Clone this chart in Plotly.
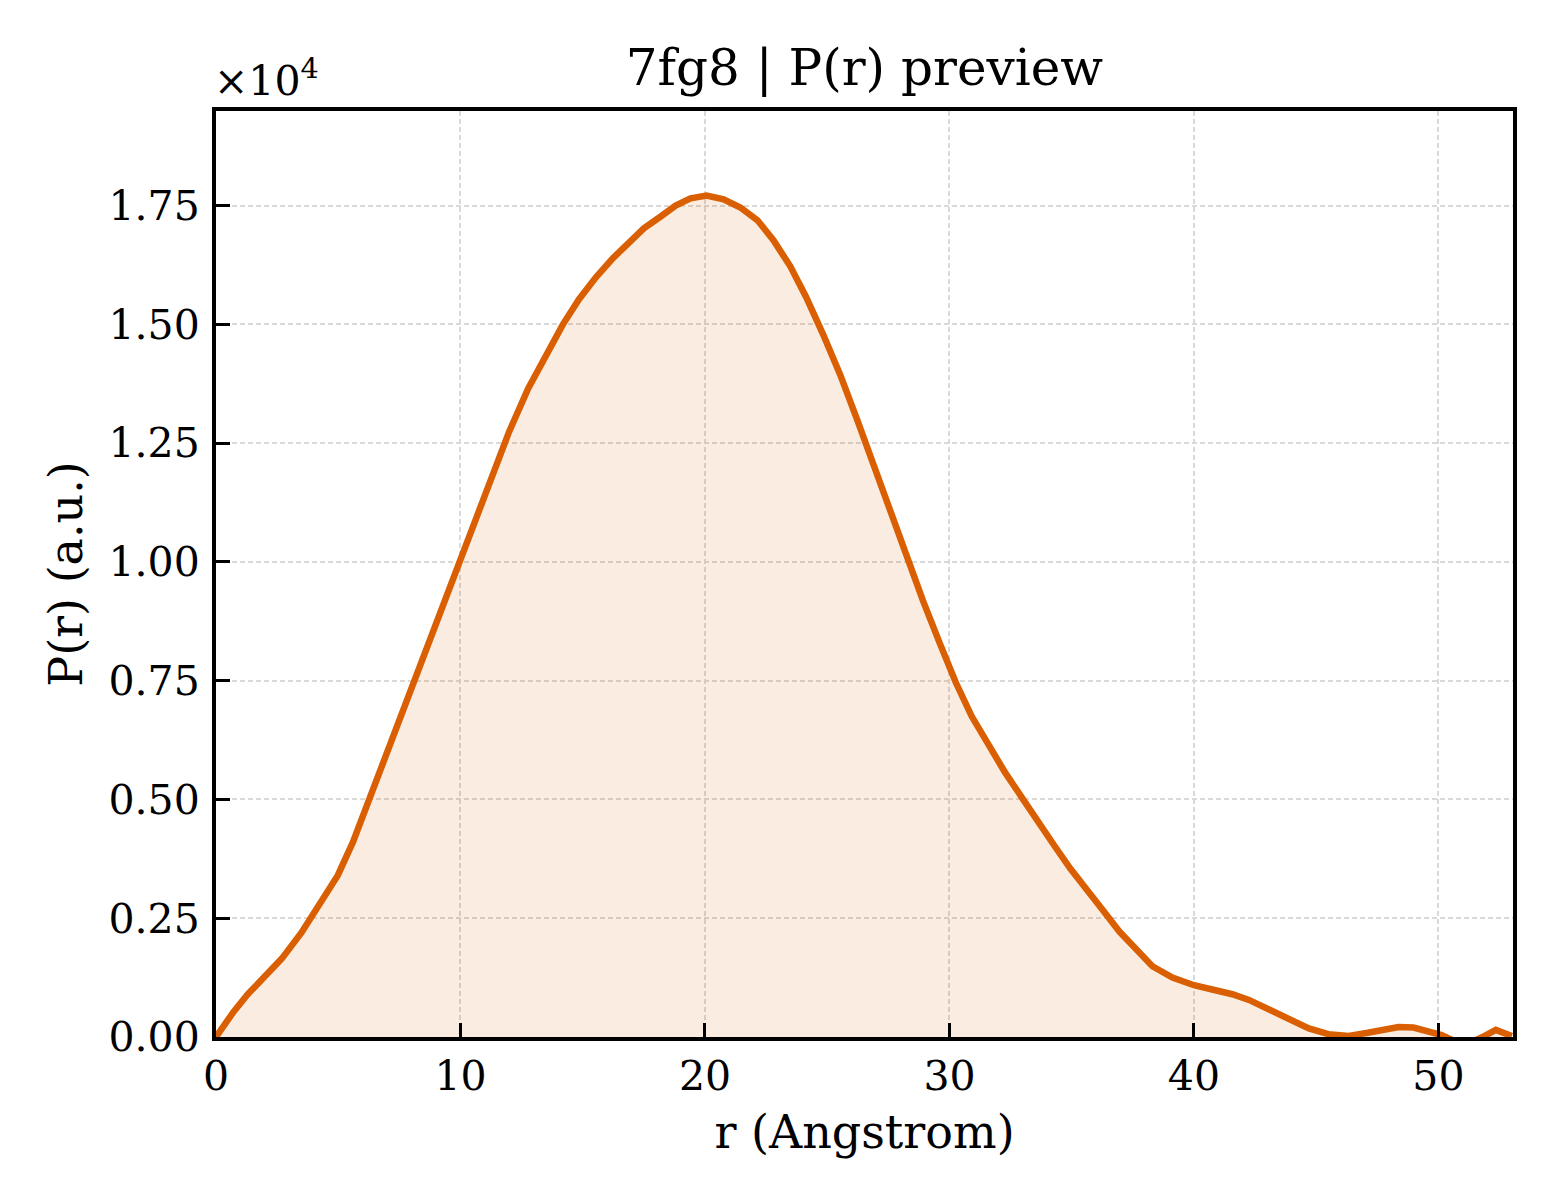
import plotly.graph_objects as go

r_angstrom = [
    0.0, 0.73, 1.3, 1.96, 2.69, 3.5, 4.24, 4.98, 5.6, 6.04, 6.69, 7.38, 8.12,
    8.89, 9.62, 10.44, 11.26, 11.99, 12.77, 13.5, 14.19, 14.85, 15.54, 16.23,
    16.88, 17.5, 18.19, 18.8, 19.41, 20.07, 20.76, 21.45, 22.15, 22.8, 23.49,
    24.14, 24.84, 25.53, 26.22, 26.88, 27.57, 28.22, 28.92, 29.61, 30.26,
    30.91, 31.61, 32.26, 32.95, 33.6, 34.3, 34.95, 35.64, 36.3, 36.95, 37.64,
    38.3, 39.12, 40.0, 40.75, 41.57, 42.25, 43.07, 43.88, 44.7, 45.5, 46.33,
    47.0, 47.7, 48.37, 48.98, 49.59, 50.13, 50.8, 51.4, 51.8, 52.35, 53.0,
]
p_r_e4 = [
    0.0, 0.054, 0.09, 0.125, 0.165, 0.22, 0.28, 0.34, 0.41, 0.47, 0.55, 0.645,
    0.748, 0.851, 0.954, 1.065, 1.18, 1.274, 1.365, 1.438, 1.50, 1.553, 1.599,
    1.639, 1.673, 1.702, 1.727, 1.75, 1.765, 1.771, 1.763, 1.746, 1.719, 1.677,
    1.622, 1.557, 1.478, 1.394, 1.30, 1.205, 1.107, 1.012, 0.918, 0.828, 0.746,
    0.675, 0.612, 0.558, 0.505, 0.453, 0.402, 0.354, 0.306, 0.265, 0.222,
    0.184, 0.149, 0.125, 0.109, 0.10, 0.09, 0.078, 0.059, 0.038, 0.018, 0.006,
    0.002, 0.008, 0.015, 0.021, 0.02, 0.013, 0.004, -0.012, -0.01, 0.0, 0.015,
    0.002,
]

x_ticks = [0, 10, 20, 30, 40, 50]
y_ticks = [0.0, 0.25, 0.5, 0.75, 1.0, 1.25, 1.5, 1.75]
y_ticklabels = [f"{v:.2f}" for v in y_ticks]

LINE = "#d95f02"
FONT = "DejaVu Serif"

fig = go.Figure()
fig.add_trace(go.Scatter(
    x=r_angstrom, y=p_r_e4, mode="lines",
    line=dict(color=LINE, width=6.5),
    fill="tozeroy", fillcolor="rgba(217,95,2,0.12)",
    showlegend=False,
))

axis_common = dict(
    showline=True, linecolor="black", linewidth=4, mirror=True,
    ticks="inside", ticklen=14, tickwidth=3, tickcolor="black",
    showgrid=True, gridcolor="#d9d9d9", gridwidth=1.5, griddash="5px,3px",
    zeroline=False,
    tickfont=dict(family=FONT, size=41, color="black"),
    title_font=dict(family=FONT, size=46, color="black"),
)

fig.update_xaxes(
    range=[0, 53.05], tickvals=x_ticks,
    title_text="r (Angstrom)", title_standoff=18,
    **axis_common,
)
fig.update_yaxes(
    range=[0, 1.949], tickvals=y_ticks, ticktext=y_ticklabels,
    ticklabelstandoff=4,
    title_text="P(r) (a.u.)", title_standoff=12,
    **axis_common,
)

# matplotlib-style offset text above the y axis
fig.add_annotation(
    text="×10<sup>4</sup>", xref="paper", yref="paper", x=0, y=1,
    xanchor="left", yanchor="bottom", xshift=-4, yshift=4, showarrow=False,
    font=dict(family=FONT, size=41, color="black"),
)

fig.update_layout(
    width=1560, height=1200,
    margin=dict(l=208, r=55, t=103, b=171),
    paper_bgcolor="white", plot_bgcolor="white",
    title=dict(
        text="7fg8 | P(r) preview", x=0.549, xanchor="center",
        y=1 - 59 / 1200, yanchor="middle",
        font=dict(family=FONT, size=50, color="black"),
    ),
)

fig.write_html("out.html")
